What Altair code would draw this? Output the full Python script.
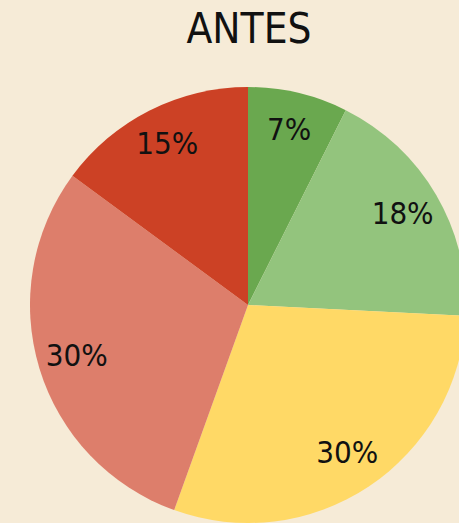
import altair as alt
import pandas as pd

categories = ["A", "B", "C", "D", "E"]
values = [7.4, 18.4, 29.7, 29.6, 14.9]
labels = ["7%", "18%", "30%", "30%", "15%"]
colors = ["#6aa84f", "#93c47d", "#ffd966", "#dd7e6b", "#cc4125"]
title_text = "ANTES"

df = pd.DataFrame({"cat": categories, "value": values, "label": labels,
                   "order": list(range(len(values)))})

FONT = "'DejaVu Sans Condensed', 'Liberation Sans Narrow', 'Roboto Condensed', Roboto, sans-serif"
cx, cy, R = 248, 305, 218

base = alt.Chart(df).encode(
    theta=alt.Theta("value:Q", stack=True),
    order=alt.Order("order:Q"),
)

arcs = base.mark_arc(outerRadius=R).encode(
    x=alt.value(cx), y=alt.value(cy),
    color=alt.Color("cat:N", scale=alt.Scale(domain=categories, range=colors), legend=None),
)

text = base.mark_text(radius=179, font=FONT, fontSize=31, color="#111111",
                      baseline="middle", align="center").encode(
    x=alt.value(cx), y=alt.value(cy),
    text="label:N",
)

title = alt.Chart(pd.DataFrame({"t": [title_text]})).mark_text(
    font=FONT, fontSize=42, color="#111111", baseline="middle", align="center"
).encode(x=alt.value(249), y=alt.value(30), text="t:N")

chart = alt.layer(arcs, text, title).properties(
    width=459, height=523,
    autosize=alt.AutoSizeParams(type="none"),
    padding=0,
    background="#f6ebd7",
).configure_view(stroke=None)

chart.save("out.html", embed_options={"renderer": "svg", "actions": False})
